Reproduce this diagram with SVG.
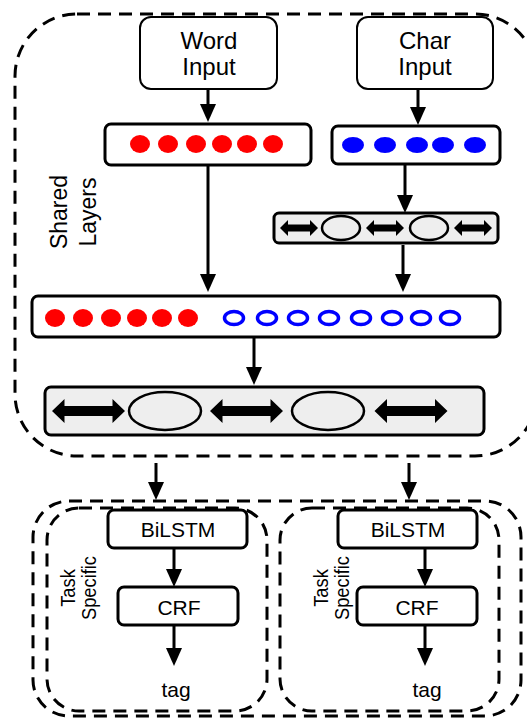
<svg xmlns="http://www.w3.org/2000/svg" width="527" height="718" viewBox="0 0 527 718">
<style>
.t{font-family:"Liberation Sans",Arial,sans-serif;fill:#000;text-anchor:middle}
.dash{fill:none;stroke:#000;stroke-width:3;stroke-dasharray:13 8}
.box{fill:#fff;stroke:#000;stroke-width:3}
.inp{fill:#fff;stroke:#000;stroke-width:2}
.gbox{fill:#eee;stroke:#000;stroke-width:3}
.ell{fill:#eee;stroke:#000;stroke-width:2.5}
.red{fill:#f00}
.blue{fill:#00f}
.hol{fill:none;stroke:#00f;stroke-width:3.5}
.con{stroke:#000;stroke-width:3;fill:none}
</style>
<defs>
<marker id="ah" markerUnits="userSpaceOnUse" markerWidth="18" markerHeight="16" viewBox="0 0 18 16" refX="12" refY="8" orient="auto">
<path d="M0,0 L18,8 L0,16 Z" fill="#000"/>
</marker>
<path id="bigdbl" d="M-36.5,0 L-24,-12 L-24,-5 L24,-5 L24,-12 L36.5,0 L24,12 L24,5 L-24,5 L-24,12 Z" fill="#000"/>
<path id="smdbl" d="M-19,0 L-11,-8 L-11,-3.5 L11,-3.5 L11,-8 L19,0 L11,8 L11,3.5 L-11,3.5 L-11,8 Z" fill="#000"/>
</defs>

<g id="shared-container">
<rect class="dash" x="15" y="14" width="522" height="442" rx="62"/>
<text class="t" font-size="23" transform="translate(67,212) rotate(-90)">Shared</text>
<text class="t" font-size="23" transform="translate(96,212) rotate(-90)">Layers</text>
</g>

<g id="word-input">
<rect class="inp" x="140" y="17" width="137" height="72" rx="11"/>
<text class="t" font-size="24" x="209" y="49">Word</text>
<text class="t" font-size="24" x="209" y="75">Input</text>
</g>

<g id="char-input">
<rect class="inp" x="357" y="17" width="136" height="72" rx="11"/>
<text class="t" font-size="24" x="425" y="49">Char</text>
<text class="t" font-size="24" x="425" y="75">Input</text>
</g>

<g id="word-embed">
<rect class="box" x="105" y="124" width="206" height="41" rx="6"/>
<ellipse class="red" cx="140" cy="144" rx="10" ry="9"/>
<ellipse class="red" cx="168" cy="144" rx="10" ry="9"/>
<ellipse class="red" cx="196" cy="144" rx="10" ry="9"/>
<ellipse class="red" cx="222" cy="144" rx="10" ry="9"/>
<ellipse class="red" cx="247" cy="144" rx="10" ry="9"/>
<ellipse class="red" cx="273" cy="144" rx="10" ry="9"/>
</g>

<g id="char-embed">
<rect class="box" x="332" y="126" width="168" height="38" rx="6"/>
<ellipse class="blue" cx="353" cy="145" rx="11" ry="8"/>
<ellipse class="blue" cx="385" cy="145" rx="11" ry="8"/>
<ellipse class="blue" cx="417" cy="145" rx="11" ry="8"/>
<ellipse class="blue" cx="443" cy="145" rx="11" ry="8"/>
<ellipse class="blue" cx="475" cy="145" rx="11" ry="8"/>
</g>

<g id="char-bilstm">
<rect class="gbox" x="274" y="213" width="224" height="30" rx="5"/>
<use href="#smdbl" x="299" y="228"/>
<ellipse class="ell" cx="341" cy="228" rx="19" ry="12"/>
<use href="#smdbl" x="385" y="228"/>
<ellipse class="ell" cx="429" cy="228" rx="19" ry="12"/>
<use href="#smdbl" x="473" y="228"/>
</g>

<g id="concat">
<rect class="box" x="32" y="296" width="468" height="41" rx="6"/>
<ellipse class="red" cx="55" cy="318" rx="10" ry="9"/>
<ellipse class="red" cx="83" cy="318" rx="10" ry="9"/>
<ellipse class="red" cx="111" cy="318" rx="10" ry="9"/>
<ellipse class="red" cx="137" cy="318" rx="10" ry="9"/>
<ellipse class="red" cx="162" cy="318" rx="10" ry="9"/>
<ellipse class="red" cx="188" cy="318" rx="10" ry="9"/>
<ellipse class="hol" cx="234" cy="318" rx="9.5" ry="6.5"/>
<ellipse class="hol" cx="267" cy="318" rx="9.5" ry="6.5"/>
<ellipse class="hol" cx="298" cy="318" rx="9.5" ry="6.5"/>
<ellipse class="hol" cx="329" cy="318" rx="9.5" ry="6.5"/>
<ellipse class="hol" cx="361" cy="318" rx="9.5" ry="6.5"/>
<ellipse class="hol" cx="392" cy="318" rx="9.5" ry="6.5"/>
<ellipse class="hol" cx="421" cy="318" rx="9.5" ry="6.5"/>
<ellipse class="hol" cx="450" cy="318" rx="9.5" ry="6.5"/>
</g>

<g id="shared-bilstm">
<rect class="gbox" x="45" y="387" width="439" height="48" rx="6"/>
<use href="#bigdbl" x="88.5" y="411"/>
<ellipse class="ell" cx="165" cy="411" rx="36" ry="19"/>
<use href="#bigdbl" x="246.5" y="411"/>
<ellipse class="ell" cx="328" cy="411" rx="36" ry="19"/>
<use href="#bigdbl" x="411" y="411"/>
</g>

<g id="task-container">
<rect class="dash" x="33" y="501" width="488" height="215" rx="36"/>
</g>

<g id="task1">
<rect class="dash" x="47" y="508" width="220" height="203" rx="32"/>
<text class="t" font-size="21" transform="translate(75,588) rotate(-90) scale(0.87,1)">Task</text>
<text class="t" font-size="21" transform="translate(96,588) rotate(-90) scale(0.87,1)">Specific</text>
<g id="task1-bilstm">
<rect class="box" x="108" y="510" width="139" height="38" rx="6"/>
<text class="t" font-size="21" x="178" y="537">BiLSTM</text>
</g>
<g id="task1-crf">
<rect class="box" x="118" y="587" width="120" height="38" rx="6"/>
<text class="t" font-size="21" x="179" y="615">CRF</text>
</g>
<text class="t" font-size="21" x="176" y="697">tag</text>
</g>

<g id="task2">
<rect class="dash" x="280" y="508" width="219" height="203" rx="32"/>
<text class="t" font-size="21" transform="translate(328,588) rotate(-90) scale(0.87,1)">Task</text>
<text class="t" font-size="21" transform="translate(349,588) rotate(-90) scale(0.87,1)">Specific</text>
<g id="task2-bilstm">
<rect class="box" x="338" y="510" width="139" height="38" rx="6"/>
<text class="t" font-size="21" x="408" y="537">BiLSTM</text>
</g>
<g id="task2-crf">
<rect class="box" x="357" y="587" width="120" height="38" rx="6"/>
<text class="t" font-size="21" x="417" y="615">CRF</text>
</g>
<text class="t" font-size="21" x="427" y="697">tag</text>
</g>

<g id="connectors">
<line class="con" x1="208" y1="89" x2="208" y2="116" marker-end="url(#ah)"/>
<line class="con" x1="418" y1="89" x2="418" y2="119" marker-end="url(#ah)"/>
<line class="con" x1="208" y1="165" x2="208" y2="286" marker-end="url(#ah)"/>
<line class="con" x1="405" y1="164" x2="405" y2="207" marker-end="url(#ah)"/>
<line class="con" x1="403" y1="245" x2="403" y2="286" marker-end="url(#ah)"/>
<line class="con" x1="254" y1="337" x2="254" y2="379" marker-end="url(#ah)"/>
<line class="con" x1="156" y1="463" x2="156" y2="494" marker-end="url(#ah)"/>
<line class="con" x1="409" y1="463" x2="409" y2="494" marker-end="url(#ah)"/>
<line class="con" x1="174" y1="548" x2="174" y2="581" marker-end="url(#ah)"/>
<line class="con" x1="174" y1="625" x2="174" y2="660" marker-end="url(#ah)"/>
<line class="con" x1="425" y1="548" x2="425" y2="581" marker-end="url(#ah)"/>
<line class="con" x1="425" y1="625" x2="425" y2="660" marker-end="url(#ah)"/>
</g>
</svg>
